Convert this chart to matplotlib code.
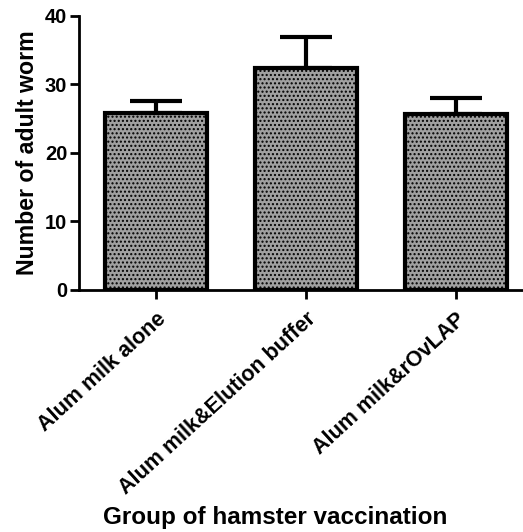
import matplotlib
matplotlib.use("Agg")
import matplotlib.pyplot as plt
import numpy as np

plt.rcParams['font.family'] = ['Liberation Sans', 'DejaVu Sans']
plt.rcParams['font.weight'] = 'bold'
plt.rcParams['hatch.linewidth'] = 1.0

categories = ["Alum milk alone", "Alum milk&Elution buffer", "Alum milk&rOvLAP"]
means = [25.8, 32.4, 25.7]
errors = [1.8, 4.5, 2.3]
yticks = [0, 10, 20, 30, 40]

fig = plt.figure(figsize=(5.23, 5.32), dpi=100)
ax = fig.add_axes([0.151, 0.455, 0.849, 0.515])

x = np.arange(len(categories))
ax.bar(x, means, width=0.68, color='#a0a0a0', edgecolor='black', linewidth=3.0,
       hatch='....', zorder=2)
ax.errorbar(x, means, yerr=[np.zeros(len(errors)), errors], fmt='none',
            ecolor='black', elinewidth=3.0, capsize=19, capthick=3.0, zorder=1)

ax.set_xlim(-0.513, 2.447)
ax.set_ylim(0, 40)
ax.set_yticks(yticks)
ax.set_yticklabels([str(t) for t in yticks], fontsize=14.5, fontweight='bold')
ax.set_xticks(x)
ax.set_xticklabels(categories, rotation=42.5, ha='right', rotation_mode='anchor',
                   fontsize=15.5, fontweight='bold')
for s in ['top', 'right']:
    ax.spines[s].set_visible(False)
for s in ['left', 'bottom']:
    ax.spines[s].set_linewidth(2.0)
ax.tick_params(axis='y', width=2.0, length=6.5, direction='out', pad=2)
ax.tick_params(axis='x', width=2.0, length=6.5, direction='out', pad=7)
ax.set_ylabel("Number of adult worm", fontsize=16.7, fontweight='bold', labelpad=4)
fig.text(0.526, 0.006, "Group of hamster vaccination", ha='center', va='bottom',
         fontsize=17.5, fontweight='bold')

fig.savefig("out.png", dpi=100)
